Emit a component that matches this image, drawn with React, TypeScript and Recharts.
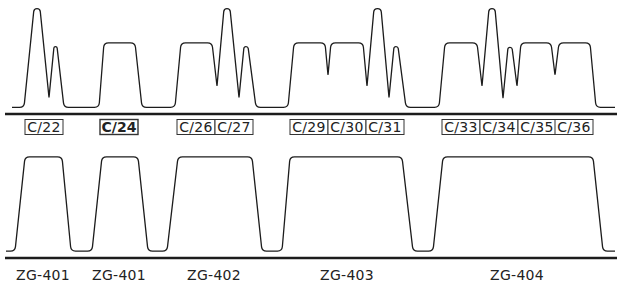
import React from "react";
import { LineChart, Line, XAxis, YAxis } from "recharts";

// upper trace: time stamps and signal level (0 = idle, 100 = steady)
const topTime = [
  12, 24, 34, 40, 49, 54, 57, 64,
  99, 104, 135, 142,
  175, 181, 212, 217, 224, 230, 239, 244, 248, 256,
  288, 294, 325, 328, 331, 363, 367, 374, 381, 389, 394, 398, 406,
  439, 445, 477, 482, 489, 495, 503, 508, 512, 517, 521, 551, 555, 559, 590, 596, 615,
];
const topLevel = [
  0, 0, 153, 153, 15, 94, 94, 0,
  0, 100, 100, 0,
  0, 100, 100, 33, 153, 153, 15, 94, 94, 0,
  0, 100, 100, 50, 100, 100, 33, 153, 153, 15, 94, 94, 0,
  0, 100, 100, 33, 153, 153, 14, 93, 93, 33, 100, 100, 50, 100, 100, 0, 0,
];
const topLabels = ["C/22", "C/24", "C/26", "C/27", "C/29", "C/30", "C/31", "C/33", "C/34", "C/35", "C/36"];
const topLabelAt = [44, 119, 196, 234, 309, 347, 385, 461, 499, 537, 574];
const boldLabel = "C/24";

// lower trace
const botTime = [6, 15, 25, 62, 71, 92, 102, 138, 148, 167, 178, 252, 262, 282, 290, 402, 413, 433, 443, 593, 603, 615];
const botLevel = [0, 0, 100, 100, 0, 0, 100, 100, 0, 0, 100, 100, 0, 0, 100, 100, 0, 0, 100, 100, 0, 0];
const botLabels = ["ZG-401", "ZG-401", "ZG-402", "ZG-403", "ZG-404"];
const botLabelAt = [43, 119, 214, 347, 517];

const topData = topTime.map((t, i) => ({ t, v: topLevel[i] }));
const botData = botTime.map((t, i) => ({ t, v: botLevel[i] }));

const FONT = "'DejaVu Sans', sans-serif";
const INK = "#1c1c1c";

// straight segments with small rounded corners
function roundedCurve(ctx: any) {
  let pts: number[][] = [];
  return {
    areaStart() {},
    areaEnd() {},
    lineStart() {
      pts = [];
    },
    point(x: number, y: number) {
      pts.push([+x, +y]);
    },
    lineEnd() {
      const n = pts.length;
      if (!n) return;
      ctx.moveTo(pts[0][0], pts[0][1]);
      for (let i = 1; i < n - 1; i++) {
        const [x0, y0] = pts[i - 1];
        const [x1, y1] = pts[i];
        const [x2, y2] = pts[i + 1];
        const l1 = Math.hypot(x0 - x1, y0 - y1);
        const l2 = Math.hypot(x2 - x1, y2 - y1);
        if (l1 === 0 || l2 === 0) {
          ctx.lineTo(x1, y1);
          continue;
        }
        const cos = ((x0 - x1) * (x2 - x1) + (y0 - y1) * (y2 - y1)) / (l1 * l2);
        const r = cos > 0.7 ? 1.2 : 4.5;
        const d = Math.min(r, l1 * 0.5, l2 * 0.5);
        ctx.lineTo(x1 + ((x0 - x1) * d) / l1, y1 + ((y0 - y1) * d) / l1);
        ctx.quadraticCurveTo(x1, y1, x1 + ((x2 - x1) * d) / l2, y1 + ((y2 - y1) * d) / l2);
      }
      ctx.lineTo(pts[n - 1][0], pts[n - 1][1]);
    },
  };
}

function BoxTick(props: any) {
  const { x, y, index } = props;
  const label = topLabels[index];
  const bold = label === boldLabel;
  return (
    <g>
      <rect x={x - 19} y={y + 5.5} width={38} height={15} fill="#fff" stroke="#333" strokeWidth={bold ? 1.4 : 1} />
      <text
        x={x}
        y={y + 18}
        textAnchor="middle"
        fontSize={14}
        fontWeight={bold ? 700 : 400}
        letterSpacing={bold ? 0 : 0.3}
        fill="#222"
        fontFamily={FONT}
      >
        {label}
      </text>
    </g>
  );
}

function NameTick(props: any) {
  const { x, y, index } = props;
  return (
    <text x={x} y={y + 22} textAnchor="middle" fontSize={14} letterSpacing={0.3} fill="#222" fontFamily={FONT}>
      {botLabels[index]}
    </text>
  );
}

export default function App() {
  return (
    <div style={{ position: "absolute", left: 0, top: 0, width: 617, height: 282, background: "#fff" }}>
      <div style={{ position: "absolute", left: 0, top: 0 }}>
        <LineChart width={617} height={140} data={topData} margin={{ top: 0, right: 0, bottom: 0, left: 5 }}>
          <XAxis
            dataKey="t"
            type="number"
            domain={[5, 617]}
            allowDataOverflow
            ticks={topLabelAt}
            interval={0}
            height={26}
            tickSize={0}
            tickMargin={0}
            tickLine={false}
            axisLine={{ stroke: INK, strokeWidth: 2.5 }}
            tick={<BoxTick />}
          />
          <YAxis hide type="number" domain={[-10.4, 166.4]} allowDataOverflow />
          <Line
            dataKey="v"
            type={roundedCurve as any}
            stroke={INK}
            strokeWidth={1.3}
            strokeLinejoin="round"
            dot={false}
            activeDot={false}
            isAnimationActive={false}
          />
        </LineChart>
      </div>
      <div style={{ position: "absolute", left: 0, top: 140 }}>
        <LineChart width={617} height={142} data={botData} margin={{ top: 0, right: 0, bottom: 0, left: 5 }}>
          <XAxis
            dataKey="t"
            type="number"
            domain={[5, 617]}
            allowDataOverflow
            ticks={botLabelAt}
            interval={0}
            height={24}
            tickSize={0}
            tickMargin={0}
            tickLine={false}
            axisLine={{ stroke: INK, strokeWidth: 2.5 }}
            tick={<NameTick />}
          />
          <YAxis hide type="number" domain={[-7.4, 118]} allowDataOverflow />
          <Line
            dataKey="v"
            type={roundedCurve as any}
            stroke={INK}
            strokeWidth={1.3}
            strokeLinejoin="round"
            dot={false}
            activeDot={false}
            isAnimationActive={false}
          />
        </LineChart>
      </div>
    </div>
  );
}
